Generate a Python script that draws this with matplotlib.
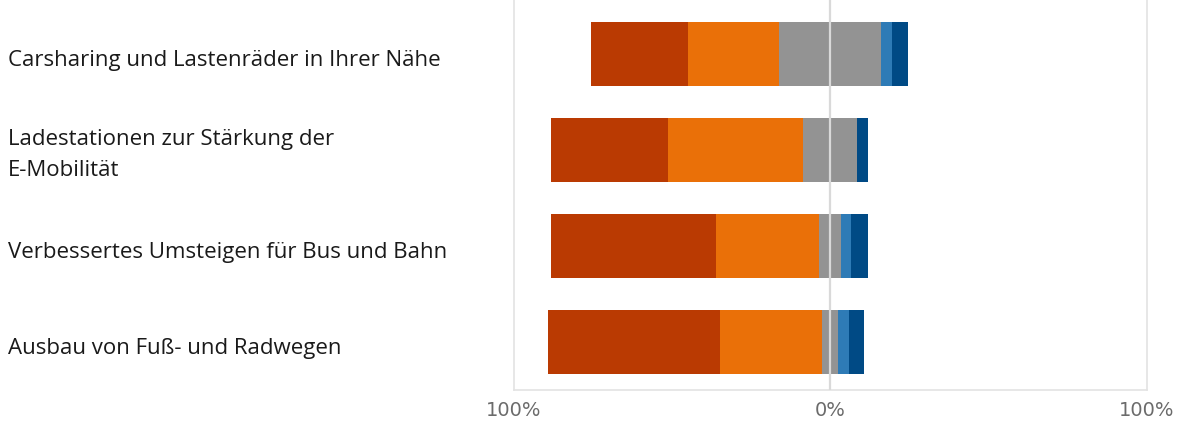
import matplotlib.pyplot as plt
import numpy as np

# survey items, top to bottom
items = [
    "Carsharing und Lastenräder in Ihrer Nähe",
    "Ladestationen zur Stärkung der\nE-Mobilität",
    "Verbessertes Umsteigen für Bus und Bahn",
    "Ausbau von Fuß- und Radwegen",
]

# shares in percent, negative side first
very_low = [30.5, 36.8, 52.1, 54.3]
low = [28.8, 42.8, 32.4, 32.4]
neutral = [32.3, 17.0, 7.2, 5.0]
high = [3.3, 0.0, 3.1, 3.6]
very_high = [5.1, 3.4, 5.2, 4.8]

tick_pos = [-100, 0, 100]
tick_text = ["100%", "0%", "100%"]

colors = ["#BA3A02", "#EA7008", "#939393", "#2E7BB6", "#004A85"]

fig = plt.figure(figsize=(11.8, 4.25), dpi=100)
ax = fig.add_axes([513.5 / 1180, 35 / 425, 633 / 1180, 390 / 425])

y = np.arange(len(items))
segments = [very_low, low, neutral, high, very_high]
start = -(np.array(very_low) + np.array(low) + np.array(neutral) / 2)
left = start.copy()
for vals, c in zip(segments, colors):
    vals = np.array(vals)
    ax.barh(y, vals, left=left, height=0.67, color=c, zorder=2)
    left = left + vals

ax.axvline(0, color="#d9d9d9", lw=1.6, zorder=3)

ax.set_xlim(-100, 100)
ax.set_ylim(3.5, -0.56)
ax.set_yticks([])
ax.set_xticks(tick_pos)
ax.set_xticklabels(tick_text, color="#6b6b6b", fontsize=14,
                   family="Liberation Sans Narrow")
ax.tick_params(axis="x", length=0, pad=8)

for s in ["left", "right", "bottom"]:
    ax.spines[s].set_color("#e3e3e3")
    ax.spines[s].set_linewidth(1.2)
ax.spines["top"].set_visible(False)

# the labels sit left of the axes, place them in figure coords
for yi, label in zip(y, items):
    ydisp = ax.transData.transform((0, yi))[1]
    yfig = fig.transFigure.inverted().transform((0, ydisp))[1]
    shift = 5 if "\n" in label else 7
    fig.text(8 / 1180, yfig - shift / 425, label, fontsize=16, family="Open Sans",
             color="#1a1a1a", va="center", ha="left", linespacing=1.6)

fig.savefig("out.png", dpi=100)
